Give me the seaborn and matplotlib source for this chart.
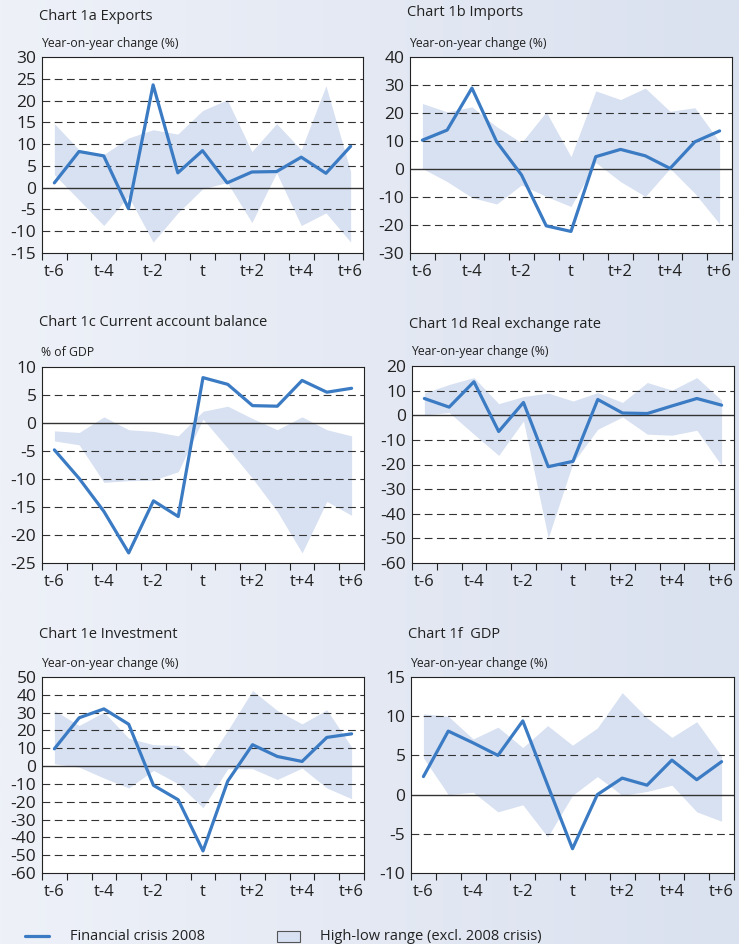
import numpy as np
import seaborn as sns
import matplotlib.pyplot as plt
from matplotlib.colors import LinearSegmentedColormap
from matplotlib.lines import Line2D
from matplotlib.patches import Rectangle

sns.set_style('white')
plt.rcParams['font.family'] = ['Open Sans', 'DejaVu Sans']

# Periods around the crisis year t
periods = ['t-6', 't-5', 't-4', 't-3', 't-2', 't-1', 't',
           't+1', 't+2', 't+3', 't+4', 't+5', 't+6']

# Chart 1a Exports
exports_crisis = [1.1, 8.3, 7.3, -4.8, 23.6, 3.4, 8.5, 1.1, 3.6, 3.7, 7.0, 3.3, 9.5]
exports_high = [14.7, 8.7, 7.6, 11.4, 13.3, 12.3, 17.7, 20.2, 8.3, 14.7, 8.7, 23.4, 3.7]
exports_low = [3.0, -2.8, -8.7, -2.0, -12.5, -5.8, -0.3, 1.2, -8.0, 3.4, -8.7, -5.8, -12.5]

# Chart 1b Imports
imports_crisis = [10.3, 13.9, 28.9, 9.7, -2.1, -20.3, -22.3, 4.4, 7.0, 4.7, 0.2, 9.7, 13.6]
imports_high = [23.4, 20.4, 22.2, 15.1, 9.4, 20.4, 4.4, 27.9, 24.8, 28.9, 20.6, 21.9, 9.7]
imports_low = [0.2, -4.5, -10.2, -12.5, -5.7, -9.8, -13.4, 2.3, -4.5, -9.8, 0.2, -8.7, -19.6]

# Chart 1c Current account balance
ca_crisis = [-4.8, -9.9, -15.8, -23.2, -13.9, -16.7, 8.1, 6.9, 3.1, 3.0, 7.6, 5.5, 6.2]
ca_high = [-1.4, -1.7, 1.1, -1.2, -1.5, -2.3, 2.1, 3.0, 0.8, -1.2, 1.1, -1.2, -2.3]
ca_low = [-3.2, -3.9, -10.6, -10.3, -10.2, -8.7, 0.7, -4.5, -9.9, -15.8, -23.2, -14.0, -16.5]

# Chart 1d Real exchange rate
rer_crisis = [6.8, 3.3, 13.6, -6.6, 5.2, -20.9, -18.7, 6.4, 0.9, 0.7, 3.8, 6.8, 4.1]
rer_high = [9.0, 12.5, 15.3, 4.7, 7.6, 9.0, 5.8, 9.2, 5.2, 13.3, 10.2, 15.3, 6.1]
rer_low = [0.1, 1.1, -7.7, -16.3, -2.3, -49.8, -19.3, -5.7, -0.7, -7.7, -8.1, -6.1, -20.4]

# Chart 1e Investment
inv_crisis = [9.7, 27.1, 32.1, 23.5, -10.8, -18.9, -47.6, -8.4, 12.0, 5.4, 2.6, 16.1, 18.1]
inv_high = [31.2, 22.8, 30.3, 15.7, 12.0, 11.6, -1.1, 20.0, 42.4, 31.2, 23.7, 31.6, 10.7]
inv_low = [1.3, -0.6, -6.7, -12.3, -2.4, -9.9, -23.4, -1.5, -1.5, -7.5, -1.1, -12.3, -18.3]

# Chart 1f GDP
gdp_crisis = [2.3, 8.1, 6.6, 5.0, 9.4, 1.2, -6.9, 0.0, 2.1, 1.2, 4.4, 1.9, 4.2]
gdp_high = [10.3, 10.0, 7.1, 8.6, 6.0, 8.8, 6.3, 8.5, 13.0, 9.8, 7.3, 9.3, 4.9]
gdp_low = [4.7, 0.0, 0.3, -2.2, -1.3, -5.4, -0.1, 2.3, -0.1, 0.4, 1.2, -2.2, -3.4]

legend_labels = ['Financial crisis 2008', 'High-low range (excl. 2008 crisis)']

LINE = '#3b7bc3'
BAND = '#d8e1f2'
INK = '#222222'
W, H = 739, 944

# title, unit, crisis, high, low, (ymin, ymax, step), axes box px (l, t, r, b), title y, unit y
panels = [
    ('Chart 1a Exports', 'Year-on-year change (%)', exports_crisis, exports_high, exports_low,
     (-15, 30, 5), (42, 57, 363, 253), 16, 44),
    ('Chart 1b Imports', 'Year-on-year change (%)', imports_crisis, imports_high, imports_low,
     (-30, 40, 10), (410, 57, 732, 253), 13, 44),
    ('Chart 1c Current account balance', '% of GDP', ca_crisis, ca_high, ca_low,
     (-25, 10, 5), (42, 367, 364, 563), 322, 352),
    ('Chart 1d Real exchange rate', 'Year-on-year change (%)', rer_crisis, rer_high, rer_low,
     (-60, 20, 10), (412, 366, 734, 563), 324, 352),
    ('Chart 1e Investment', 'Year-on-year change (%)', inv_crisis, inv_high, inv_low,
     (-60, 50, 10), (42, 677, 364, 873), 635, 663),
    ('Chart 1f  GDP', 'Year-on-year change (%)', gdp_crisis, gdp_high, gdp_low,
     (-10, 15, 5), (411, 677, 734, 873), 635, 663),
]

fig = plt.figure(figsize=(W / 100, H / 100), dpi=100)

# soft blue background gradient
bg = fig.add_axes([0, 0, 1, 1], zorder=-10)
cmap = LinearSegmentedColormap.from_list('bg', ['#eef1f8', '#dae1ef'])
bg.imshow(np.linspace(0, 1, 256).reshape(1, -1), aspect='auto', cmap=cmap,
          extent=[0, 1, 0, 1])
bg.axis('off')

x = np.arange(len(periods))
for title, unit, crisis, high, low, (ymin, ymax, step), (l, t, r, b), ty, uy in panels:
    ax = fig.add_axes([l / W, 1 - b / H, (r - l) / W, (b - t) / H])
    ax.set_facecolor('white')
    ax.fill_between(x, low, high, color=BAND, lw=0, zorder=1)
    yt = np.arange(ymin, ymax + step, step)
    for v in yt[1:-1]:
        if v == 0:
            ax.axhline(0, color='#333333', lw=1.0, zorder=2)
        else:
            ax.axhline(v, color='#333333', lw=0.8, ls=(0, (7, 4)), zorder=2)
    sns.lineplot(x=x, y=crisis, ax=ax, color=LINE, linewidth=2.3, zorder=3)
    ax.set_xlim(-0.5, 12.5)
    ax.set_ylim(ymin, ymax)
    ax.set_yticks(yt)
    ax.set_yticklabels([f'{v:d}' for v in yt])
    ax.tick_params(axis='y', length=0, pad=4, labelsize=12.5, labelcolor=INK)
    ax.set_xticks(np.arange(-0.5, 13, 1))
    ax.set_xticklabels([])
    ax.set_xticks(x[::2], minor=True)
    ax.set_xticklabels(periods[::2], minor=True)
    ax.tick_params(axis='x', which='major', direction='out', length=5, width=0.8,
                   color=INK, bottom=True)
    ax.tick_params(axis='x', which='minor', length=0, pad=8, labelsize=12,
                   labelcolor=INK)
    for s in ax.spines.values():
        s.set_color(INK)
        s.set_linewidth(0.8)
    fig.text((l - 3) / W, 1 - ty / H, title, fontsize=10.5, va='center', color=INK)
    fig.text((l - 1) / W, 1 - uy / H, unit, fontsize=8.8, va='center', color=INK)

# legend drawn at fixed spots along the bottom
ly = 1 - 936 / H
fig.add_artist(Line2D([25 / W, 49 / W], [ly, ly], color=LINE, lw=2.3))
fig.text(70 / W, ly, legend_labels[0], fontsize=10.5, va='center', color=INK)
fig.add_artist(Rectangle((277 / W, ly - 5.5 / H), 23 / W, 11 / H,
                         facecolor=BAND, edgecolor='#555555', lw=0.8))
fig.text(320 / W, ly, legend_labels[1], fontsize=10.5, va='center', color=INK)

fig.savefig('out.png', dpi=100)
